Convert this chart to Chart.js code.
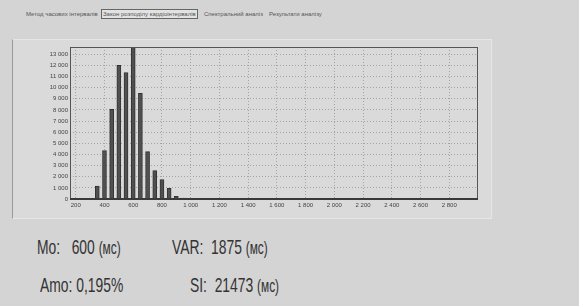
<!DOCTYPE html>
<html>
<head>
<meta charset="utf-8">
<script src="https://cdn.jsdelivr.net/npm/chart.js@4"></script>
<style>
  body { margin: 0; width: 579px; height: 306px; background: #d4d4d4; position: relative; overflow: hidden;
         font-family: "Liberation Sans", Arial, sans-serif; color: #333; }
  .tab { position: absolute; top: 10px; font-size: 6px; line-height: 8px; color: #555; white-space: nowrap; }
  .tab.sel { border: 1px solid #666; background: #e2e2e2; padding: 0 1px; top: 9px; }
  #panel { position: absolute; left: 12px; top: 39px; width: 478px; height: 178px;
           background: #dadada; border: 1px solid #e6e6e6; border-left-color: #9a9a9a; }
  #wrap { position: absolute; left: 20px; top: 40px; width: 470px; height: 175px; }
  .stat { position: absolute; font-size: 21px; line-height: 21px; white-space: pre;
          transform: scaleX(0.66); transform-origin: left top; color: #333; }
  .stat small { font-size: 18px; }
</style>
</head>
<body>
<span class="tab" style="left:26px">Метод часових інтервалів</span>
<span class="tab sel" style="left:101px">Закон розподілу кардіоінтервалів</span>
<span class="tab" style="left:204px">Спектральний аналіз</span>
<span class="tab" style="left:269px">Результати аналізу</span>
<div id="panel"></div>
<div id="wrap"><canvas id="hist"></canvas></div>
<div class="stat" style="left:37px;top:236px">Mo:   600 <small>(мс)</small></div>
<div class="stat" style="left:172px;top:236px">VAR:  1875 <small>(мс)</small></div>
<div class="stat" style="left:40px;top:274px">Amo: 0,195%</div>
<div class="stat" style="left:190px;top:274px">SI:  21473 <small>(мс)</small></div>
<script>
  // Гістограма RR-інтервалів
  const binCenters = [350, 400, 450, 500, 550, 600, 650, 700, 750, 800, 850, 900, 950, 1000, 1050];
  const binCounts = [1150, 4350, 8050, 12000, 11350, 13650, 9500, 4250, 2550, 1750, 950, 250, 80, 50, 30];
  const xTicks = [200, 400, 600, 800, 1000, 1200, 1400, 1600, 1800, 2000, 2200, 2400, 2600, 2800];
  const yTicks = [0, 1000, 2000, 3000, 4000, 5000, 6000, 7000, 8000, 9000, 10000, 11000, 12000, 13000];
  const xRange = [160, 3000];
  const yRange = [0, 13650];

  const spaced = (v) => String(v).replace(/\B(?=(\d{3})+(?!\d))/g, " ");

  const frame = {
    id: "frame",
    afterDraw(chart) {
      const { ctx, chartArea: a } = chart;
      ctx.save();
      ctx.strokeStyle = "#555";
      ctx.lineWidth = 1;
      ctx.strokeRect(a.left + 0.5, a.top + 0.5, a.right - a.left - 1, a.bottom - a.top);
      ctx.strokeStyle = "#3a3a3a";
      ctx.lineWidth = 2;
      ctx.beginPath();
      ctx.moveTo(a.left, a.bottom);
      ctx.lineTo(a.right, a.bottom);
      ctx.stroke();
      ctx.restore();
    },
  };

  const tickFont = { size: 6, family: "Liberation Sans" };

  new Chart(document.getElementById("hist"), {
    type: "bar",
    data: {
      datasets: [{
        data: binCenters.map((x, i) => ({ x, y: binCounts[i] })),
        backgroundColor: "#505050",
        borderColor: "#333",
        borderWidth: 1,
        barThickness: 4,
      }],
    },
    options: {
      responsive: true,
      maintainAspectRatio: false,
      animation: false,
      layout: { padding: { top: 7, right: 12, left: 0, bottom: 0 } },
      plugins: { legend: { display: false }, tooltip: { enabled: false } },
      scales: {
        x: {
          type: "linear",
          offset: false,
          min: xRange[0],
          max: xRange[1],
          ticks: { color: "#444", font: tickFont, padding: 3, maxRotation: 0, autoSkip: false, callback: spaced },
          afterBuildTicks(s) { s.ticks = xTicks.map((value) => ({ value })); },
          afterFit(s) { s.height = 16; },
          grid: { offset: false, color: "#a4a4a4", lineWidth: 1, drawTicks: false },
          border: { display: false, dash: [1, 2] },
        },
        y: {
          min: yRange[0],
          max: yRange[1],
          ticks: { color: "#444", font: tickFont, padding: 2, autoSkip: false, callback: spaced },
          afterBuildTicks(s) { s.ticks = yTicks.map((value) => ({ value })); },
          afterFit(s) { s.width = 50; },
          grid: { color: "#a4a4a4", lineWidth: 1, drawTicks: false },
          border: { display: false, dash: [1, 2] },
        },
      },
    },
    plugins: [frame],
  });
</script>
</body>
</html>
